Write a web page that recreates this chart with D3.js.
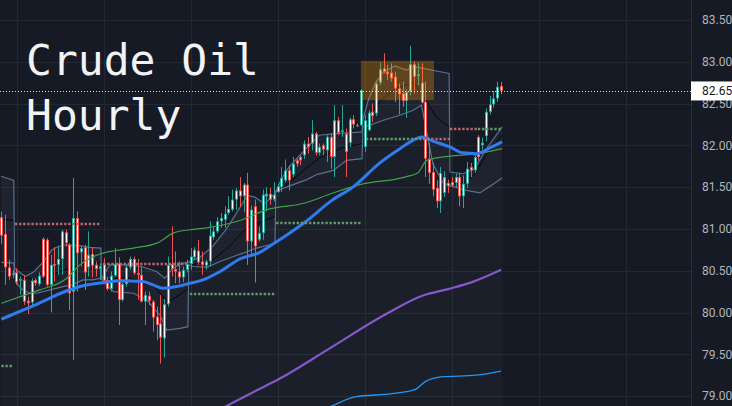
<!DOCTYPE html>
<html>
<head>
<meta charset="utf-8">
<script src="https://cdn.jsdelivr.net/npm/d3@7"></script>
<style>
html, body { margin: 0; padding: 0; background: #161a25; }
svg { display: block; }
</style>
</head>
<body>
<div id="chart"></div>
<script>
// hourly candles, oldest first
const opens = [
  81.14,80.94,80.54,80.45,80.48,80.38,80.39,80.14,80.12,80.39,
  80.34,80.88,80.87,80.33,80.58,80.57,80.64,80.96,80.81,80.25,
  81.13,80.72,80.78,80.54,80.70,80.57,80.52,80.58,80.39,80.28,
  80.44,80.59,80.15,80.34,80.54,80.64,80.47,80.45,80.13,80.20,
  80.13,79.95,79.87,79.69,80.10,80.58,80.52,80.49,80.42,80.51,
  80.58,80.66,80.74,80.61,80.56,80.61,80.90,80.97,81.09,81.11,
  81.19,81.23,81.35,81.46,81.39,81.53,80.85,81.27,80.87,80.95,
  81.39,81.42,81.35,81.44,81.50,81.58,81.70,81.65,81.82,81.86,
  81.88,82.02,82.02,82.14,81.91,82.00,81.94,82.10,81.86,82.30,
  82.16,82.14,82.03,82.31,82.24,82.24,81.98,82.18,82.40,82.38,
  82.75,82.92,82.88,82.87,82.82,82.68,82.62,82.53,82.64,82.97,
  82.83,82.75,82.52,81.84,81.68,81.49,81.33,81.43,81.55,81.56,
  81.55,81.62,81.39,81.54,81.74,81.70,82.10,82.00,82.11,82.40,
  82.49,82.56,82.71
];
const highs = [
  81.21,81.17,80.63,80.51,80.53,80.43,80.45,80.19,80.41,80.41,
  80.48,80.90,80.89,80.69,80.78,80.79,80.99,80.99,80.83,81.61,
  81.21,80.79,80.81,80.97,80.78,80.61,80.59,80.65,80.43,80.49,
  80.77,80.66,80.39,80.57,80.67,80.67,80.64,80.55,80.25,80.25,
  80.15,80.07,80.21,80.16,80.67,81.03,80.73,80.61,80.55,80.63,
  80.77,80.78,80.87,80.73,80.63,81.09,81.03,81.14,81.19,81.27,
  81.39,81.47,81.49,81.62,81.55,81.67,81.28,81.35,81.03,81.47,
  81.50,81.49,81.56,81.54,81.74,81.83,81.76,81.86,81.84,81.88,
  82.06,82.10,82.30,82.16,82.02,82.02,82.12,82.14,82.48,82.34,
  82.48,82.20,82.33,82.36,82.26,82.67,82.36,82.42,82.50,82.76,
  82.99,83.10,82.96,82.98,82.88,82.74,82.76,82.67,83.19,83.00,
  82.99,82.98,82.76,82.03,81.79,81.58,81.74,81.69,81.59,81.62,
  81.66,81.67,81.64,81.80,81.79,81.90,82.12,82.09,82.44,82.59,
  82.65,82.76,82.76
];
const lows = [
  80.82,80.33,80.39,80.41,80.33,80.21,80.09,79.98,80.07,80.32,
  80.32,80.41,80.31,80.00,80.37,80.45,80.45,80.79,80.03,79.43,
  80.25,80.55,80.27,80.43,80.42,80.43,80.39,80.36,80.26,80.25,
  80.43,79.85,80.13,80.31,80.51,80.45,80.15,80.12,79.85,80.09,
  79.77,79.67,79.39,79.46,80.07,80.43,80.35,80.35,80.36,80.48,
  80.51,80.63,80.57,80.45,80.51,80.55,80.87,80.95,81.01,81.01,
  81.17,81.21,81.23,81.26,81.20,80.57,80.70,80.36,80.85,80.87,
  81.21,81.29,81.33,81.43,81.44,81.56,81.46,81.62,81.74,81.76,
  81.84,81.90,81.94,81.88,81.88,81.88,81.80,81.72,81.62,82.12,
  82.10,81.62,81.98,82.20,82.22,82.23,81.92,82.17,82.28,82.35,
  82.72,82.86,82.78,82.76,82.52,82.37,82.46,82.33,82.60,82.62,
  82.72,82.50,81.62,81.54,81.39,81.25,81.19,81.38,81.43,81.50,
  81.49,81.27,81.25,81.49,81.62,81.67,81.82,81.95,82.05,82.37,
  82.45,82.52,82.61
];
const closes = [
  80.92,80.54,80.43,80.47,80.36,80.40,80.13,80.11,80.38,80.35,
  80.44,80.43,80.33,80.57,80.56,80.64,80.97,80.83,80.23,81.13,
  80.71,80.77,80.48,80.69,80.56,80.52,80.55,80.38,80.28,80.44,
  80.58,80.15,80.34,80.54,80.64,80.47,80.45,80.13,80.21,80.14,
  79.94,79.85,79.70,80.10,80.57,80.52,80.49,80.42,80.51,80.58,
  80.67,80.75,80.60,80.57,80.61,80.92,80.97,81.09,81.13,81.18,
  81.24,81.35,81.46,81.39,81.53,80.85,81.23,80.79,80.95,81.41,
  81.42,81.35,81.41,81.51,81.61,81.70,81.58,81.78,81.78,81.82,
  82.02,81.98,82.14,81.91,81.98,81.95,82.10,81.86,82.30,82.15,
  82.18,81.92,82.31,82.25,82.23,82.66,82.30,82.39,82.35,82.74,
  82.91,82.88,82.85,82.80,82.68,82.61,82.53,82.64,82.97,82.82,
  82.85,82.51,81.84,81.67,81.47,81.33,81.67,81.62,81.51,81.52,
  81.62,81.39,81.54,81.72,81.70,81.86,81.86,82.03,82.40,82.49,
  82.56,82.70,82.65
];

// indicator lines as [bar index, price]
const upperBand = [
  [0,81.63],[3.3,81.58],[3.5,80.53],[6.3,80.43],[8.4,80.48],[11,80.60],[13.4,80.75],[15,80.79],[17.4,80.81],[20.8,80.80],[23.4,80.78],[26.3,80.77],
  [26.5,80.40],[28.6,80.57],[33,80.57],[37,80.55],[41,80.49],[43.2,80.41],[45.4,80.53],[47.7,80.59],[49.3,80.60],
  [52.5,80.66],[56,80.80],[59.5,81.00],[62,81.18],[65,81.40],[67,81.38],[69.5,81.30],[72.3,81.42],
  [74,81.60],[76,81.74],[80,81.94],[84,82.12],[88,82.14],[92,82.15],[95.3,82.16],
  [95.5,82.30],[97,82.55],[99,82.76],[101,82.88],[104,82.95],[107,82.90],[109,82.94],[111.5,82.92],[116,82.88],[118.3,82.86],
  [118.5,81.68],[122,81.66],[125,81.72],[128,81.95],[132.3,82.22]
];
const lowerBand = [
  [0,80.60],[3.3,80.59],[3.5,80.47],[4.4,80.33],[5.7,80.27],[7.6,80.23],[9.4,80.23],[12.9,80.27],[16.3,80.31],[18.7,80.33],[21.6,80.39],[24.2,80.39],[26.3,80.41],
  [27.8,80.33],[29.6,80.25],[34.9,80.23],[38.4,80.15],[41.9,79.97],[43.7,79.79],[47.2,79.81],[49.3,79.83],
  [49.5,80.57],[50.7,80.55],[54.3,80.54],[57.8,80.61],[61.3,80.67],[63.9,80.71],[67.5,80.77],[70.9,80.81],[72.3,80.83],
  [72.5,81.45],[77.1,81.53],[80.7,81.59],[83.3,81.65],[87.7,81.70],[91.2,81.82],[95.3,81.84],
  [95.5,82.22],[97.4,82.24],[100.9,82.30],[105.3,82.36],[108.8,82.42],[111,82.48],[114,81.78],[116.7,81.55],[118.3,81.52],
  [122.9,81.46],[126.4,81.43],[129.1,81.51],[132.3,81.61]
];
const vwapLine = [
  [0,81.12],[3.3,81.10],[3.5,80.45],[10,80.38],[16,80.50],[22,80.58],[26.3,80.60],
  [26.5,80.38],[33,80.42],[40,80.33],[44,80.12],[49.3,80.28],
  [49.5,80.57],[55,80.60],[60,80.78],[65,81.02],[72.3,81.15],
  [72.5,81.42],[78,81.63],[84,81.85],[90,81.97],[95.3,82.02],
  [95.5,82.24],[100,82.52],[104,82.68],[109,82.75],[112,82.55],[115,82.33],[118.3,82.22],
  [118.5,81.55],[122,81.55],[125,81.65],[128,81.88],[132.3,82.12]
];
const emaBlue = [
  [0,79.92],[8.4,80.08],[17.4,80.26],[21.6,80.32],[27.4,80.36],[31.4,80.38],[37.4,80.37],[40.1,80.33],[42.7,80.29],[46.4,80.31],
  [49,80.34],[53.8,80.40],[57.8,80.49],[63,80.64],[68.3,80.72],[71.8,80.82],[75.5,80.93],[80.2,81.08],[87.6,81.35],[92.9,81.50],
  [100,81.79],[105.3,81.96],[108.7,82.06],[111.1,82.10],[114,82.05],[118.5,81.98],[121.9,81.91],[125.6,81.90],[129.1,81.97],[132.3,82.04]
];
const maGreen = [
  [0,80.11],[5,80.19],[10.2,80.27],[17.3,80.41],[20.8,80.57],[26.1,80.70],[34.8,80.77],[41.1,80.83],[45.4,80.95],[49.8,80.99],
  [53.8,81.01],[63,81.10],[70.2,81.23],[80.2,81.31],[87.6,81.43],[94.7,81.53],[106.6,81.62],[110,81.67],[112.4,81.82],[114,81.84],
  [118.5,81.87],[125.6,81.90],[132.3,81.96]
];
const maPurple = [
  [55,78.78],[59.4,78.88],[67.5,79.07],[73.6,79.21],[86,79.55],[102,79.99],[111.2,80.20],[118,80.28],[124.2,80.36],[132,80.51]
];
const maLightBlue = [
  [85,78.84],[87.2,78.88],[93.4,78.99],[103.2,79.03],[109.4,79.08],[111.9,79.17],[116.1,79.23],[125.4,79.25],[132,79.30]
];

// dotted levels
const levelStart = [0, 3.6, 26.9, 49.8, 72.6, 96.3, 111.4, 118.5, 125.9];
const levelEnd   = [2.8, 26, 49, 72.6, 95.3, 111.4, 118.5, 125.9, 132.3];
const levelPrice = [79.36, 81.06, 80.58, 80.22, 81.07, 82.07, 82.07, 82.19, 82.19];
const levelSide  = ["up","dn","dn","up","up","up","dn","dn","up"];

// highlighted zone
const zoneBars = [95.0, 114.3];
const zonePrices = [83.01, 82.54];

const lastPrice = 82.65;
const priceTicks = [79.0, 79.5, 80.0, 80.5, 81.0, 81.5, 82.0, 82.5, 83.0, 83.5];
const dayLines = [4.15, 27.15, 50.15, 73.15, 96.15, 119.15, 142.15, 165.15];
const titleLines = ["Crude Oil", "Hourly"];

const W = 732, H = 406, plotW = 691;
const upColor = "#26a69a", dnColor = "#ef5350";

const x = d3.scaleLinear().domain([0, 132]).range([1.3, 501]);
const y = d3.scaleLinear().domain([79, 83.5]).range([396.1, 19.9]);

const svg = d3.select("#chart").append("svg")
    .attr("width", W)
    .attr("height", H);

svg.append("rect").attr("width", W).attr("height", H).attr("fill", "#161a25");

svg.append("clipPath").attr("id", "plot")
    .append("rect").attr("width", plotW).attr("height", H);

const g = svg.append("g").attr("clip-path", "url(#plot)");

// grid
g.selectAll(".hgrid").data(priceTicks).enter().append("line")
    .attr("x1", 0).attr("x2", plotW)
    .attr("y1", d => Math.round(y(d)) + 0.5).attr("y2", d => Math.round(y(d)) + 0.5)
    .attr("stroke", "#242833").attr("stroke-width", 1);
g.selectAll(".vgrid").data(dayLines).enter().append("line")
    .attr("x1", d => Math.round(x(d)) + 0.5).attr("x2", d => Math.round(x(d)) + 0.5)
    .attr("y1", 0).attr("y2", H)
    .attr("stroke", "#242833").attr("stroke-width", 1);

const line = d3.line().x(d => x(d[0])).y(d => y(d[1]));
const smooth = d3.line().x(d => x(d[0])).y(d => y(d[1])).curve(d3.curveMonotoneX);

// shaded area under the lower band and between the bands
g.append("path")
    .attr("d", d3.area().x(d => x(d[0])).y0(H).y1(d => y(d[1]))(lowerBand))
    .attr("fill", "rgba(255,255,255,0.025)");
g.append("path")
    .attr("d", line(upperBand.concat(lowerBand.slice().reverse())) + "Z")
    .attr("fill", "rgba(150,160,180,0.07)");

g.append("path").attr("d", line(vwapLine))
    .attr("fill", "none").attr("stroke", "#05070a").attr("stroke-width", 1);
[upperBand, lowerBand].forEach(b => {
    g.append("path").attr("d", line(b))
        .attr("fill", "none").attr("stroke", "#58718f").attr("stroke-width", 1.2);
});

// candles
const bars = d3.range(opens.length);
const cg = g.append("g");
bars.forEach(i => {
    const o = opens[i], c = closes[i];
    const col = c >= o ? upColor : dnColor;
    const cx = Math.round(x(i));
    cg.append("line")
        .attr("x1", cx + 0.5).attr("x2", cx + 0.5)
        .attr("y1", y(highs[i])).attr("y2", y(lows[i]))
        .attr("stroke", col).attr("stroke-width", 1);
    const top = y(Math.max(o, c));
    const h = Math.max(1, Math.abs(y(o) - y(c)));
    cg.append("rect")
        .attr("x", cx - 1).attr("y", top)
        .attr("width", 3).attr("height", h)
        .attr("fill", col);
    if (h > 2.5) {
        cg.append("rect")
            .attr("x", cx).attr("y", top + 1)
            .attr("width", 1).attr("height", h - 2)
            .attr("fill", "#ffffff");
    }
});

// moving averages
g.append("path").attr("d", smooth(maLightBlue))
    .attr("fill", "none").attr("stroke", "#2196f3").attr("stroke-width", 1.3);
g.append("path").attr("d", smooth(maPurple))
    .attr("fill", "none").attr("stroke", "#8359c9").attr("stroke-width", 2.2);
g.append("path").attr("d", smooth(maGreen))
    .attr("fill", "none").attr("stroke", "#43a047").attr("stroke-width", 1.2);
g.append("path").attr("d", smooth(emaBlue))
    .attr("fill", "none").attr("stroke", "#2f7bf0").attr("stroke-width", 3);

// dotted levels
g.selectAll(".level").data(levelPrice).enter().append("line")
    .attr("x1", (d, i) => x(levelStart[i]))
    .attr("x2", (d, i) => x(levelEnd[i]))
    .attr("y1", d => Math.round(y(d)))
    .attr("y2", d => Math.round(y(d)))
    .attr("stroke", (d, i) => levelSide[i] === "up" ? "#5e9a67" : "#b8666a")
    .attr("stroke-width", 2.4)
    .attr("stroke-dasharray", "2.4 1.7");

// zone box
g.append("rect")
    .attr("x", x(zoneBars[0])).attr("y", y(zonePrices[0]))
    .attr("width", x(zoneBars[1]) - x(zoneBars[0]))
    .attr("height", y(zonePrices[1]) - y(zonePrices[0]))
    .attr("fill", "rgba(255,152,0,0.29)");

// last price line
g.append("line")
    .attr("x1", 0).attr("x2", plotW)
    .attr("y1", Math.round(y(lastPrice)) + 0.5).attr("y2", Math.round(y(lastPrice)) + 0.5)
    .attr("stroke", "#e8e8e8").attr("stroke-width", 1)
    .attr("stroke-dasharray", "1 2");

// title
svg.selectAll(".title").data(titleLines).enter().append("text")
    .attr("x", 26)
    .attr("y", (d, i) => 75 + i * 55)
    .attr("fill", "#f2f3f5")
    .style("font-family", "DejaVu Sans Mono")
    .style("font-size", "43px")
    .text(d => d);

// price axis
const axis = svg.append("g")
    .attr("transform", "translate(" + plotW + ",0)")
    .call(d3.axisRight(y).tickValues(priceTicks).tickFormat(d3.format(".2f")).tickSize(0).tickPadding(11));
axis.select(".domain").attr("stroke", "#2a2e39").attr("d", "M0.5,0V" + H);
axis.selectAll("text")
    .attr("fill", "#b2b5be")
    .style("font-family", "Roboto")
    .style("font-size", "12px");

const py = y(lastPrice);
svg.append("rect")
    .attr("x", plotW).attr("y", py - 9.5)
    .attr("width", W - plotW).attr("height", 19)
    .attr("fill", "#ffffff");
svg.append("text")
    .attr("x", plotW + 11).attr("y", py)
    .attr("dy", "0.35em")
    .attr("fill", "#131722")
    .style("font-family", "Roboto")
    .style("font-size", "12px")
    .text(d3.format(".2f")(lastPrice));
</script>
</body>
</html>
